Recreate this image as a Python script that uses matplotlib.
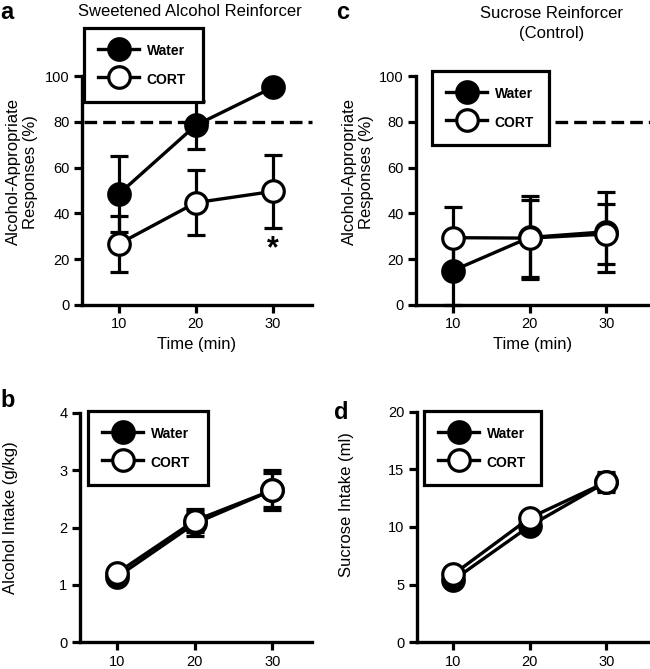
import matplotlib
matplotlib.use("Agg")
import matplotlib.pyplot as plt
from matplotlib.lines import Line2D

plt.rcParams['font.family'] = ['Liberation Sans', 'DejaVu Sans']

# ---- data ----
times = [10, 20, 30]
groups = ["Water", "CORT"]

# panel a: Sweetened alcohol reinforcer, alcohol-appropriate responses (%)
a_water = [48.5, 78.5, 95.0]
a_water_err = [16.5, 10.5, 0.0]
a_cort = [26.7, 44.7, 49.6]
a_cort_err = [12.3, 14.2, 16.0]

# panel c: Sucrose reinforcer, alcohol-appropriate responses (%)
c_water = [15.0, 29.5, 32.0]
c_water_err = [15.0, 18.0, 17.5]
c_cort = [29.4, 29.2, 31.0]
c_cort_err = [13.6, 16.8, 13.2]

# panel b: alcohol intake (g/kg)
b_water = [1.14, 2.07, 2.65]
b_water_err = [0.05, 0.22, 0.35]
b_cort = [1.21, 2.12, 2.65]
b_cort_err = [0.05, 0.2, 0.3]

# panel d: sucrose intake (ml)
d_water = [5.4, 10.1, 13.9]
d_water_err = [0.3, 0.4, 0.9]
d_cort = [5.9, 10.8, 13.9]
d_cort_err = [0.3, 0.4, 0.7]

criterion = 80

W, H = 650, 669
fig = plt.figure(figsize=(W / 100, H / 100), dpi=100)

LW = 2.4
MS = 15.5
MEW = 2.3


def add_ax(l, r, t, b):
    return fig.add_axes([l / W, 1 - b / H, (r - l) / W, (b - t) / H])


def style(ax, xlim, ylim, yticks):
    ax.set_xlim(*xlim)
    ax.set_ylim(*ylim)
    ax.set_xticks(times)
    ax.set_yticks(yticks)
    for s in ['top', 'right']:
        ax.spines[s].set_visible(False)
    for s in ['left', 'bottom']:
        ax.spines[s].set_linewidth(2.4)
        ax.spines[s].set_capstyle('projecting')
    ax.tick_params(width=2.3, length=5.5, labelsize=10.5, pad=3.5, direction='out')
    ax.patch.set_alpha(0)


def draw(ax, w, we, c, ce):
    ax.errorbar(times, w, yerr=we, color='black', lw=LW, marker='o', ms=MS,
                mfc='black', mec='black', mew=MEW, capsize=6.5, capthick=2.3,
                elinewidth=2.3, zorder=3, clip_on=False)
    ax.errorbar(times, c, yerr=ce, color='black', lw=LW, marker='o', ms=MS,
                mfc='white', mec='black', mew=MEW, capsize=6.5, capthick=2.3,
                elinewidth=2.3, zorder=4, clip_on=False)


def legend(ax, l, r, t, b):
    handles = [
        Line2D([], [], color='black', lw=LW, marker='o', ms=MS, mfc='black', mec='black', mew=MEW),
        Line2D([], [], color='black', lw=LW, marker='o', ms=MS, mfc='white', mec='black', mew=MEW),
    ]
    leg = ax.legend(handles, groups, loc='upper left',
                    bbox_to_anchor=(l / W, 1 - b / H, (r - l) / W, (b - t) / H),
                    bbox_transform=fig.transFigure, mode='expand', borderaxespad=0,
                    prop={'weight': 'bold', 'size': 10}, handlelength=2.95,
                    handletextpad=0.55, borderpad=1.02, handleheight=1.5,
                    labelspacing=0.85, fancybox=False, framealpha=1,
                    edgecolor='black', numpoints=1)
    leg.get_frame().set_linewidth(2.3)
    leg.set_zorder(10)
    return leg


# ---- panel a ----
ax_a = add_ax(82, 312, 76, 305)
style(ax_a, (5.2, 35.1), (0, 100), [0, 20, 40, 60, 80, 100])
ax_a.plot([5.4, 35.1], [criterion, criterion], color='black', lw=2.4,
          dashes=(3.8, 1.8), zorder=2, clip_on=False)
draw(ax_a, a_water, a_water_err, a_cort, a_cort_err)
ax_a.text(30, 24.5, '*', ha='center', va='center', fontsize=22, fontweight='bold')
ax_a.set_xlabel('Time (min)', fontsize=12, labelpad=4)
legend(ax_a, 84, 203, 28, 102)

# ---- panel c ----
ax_c = add_ax(416, 650, 76, 305)
style(ax_c, (5.2, 35.7), (0, 100), [0, 20, 40, 60, 80, 100])
ax_c.plot([23.3, 35.7], [criterion, criterion], color='black', lw=2.4,
          dashes=(3.8, 1.8), zorder=2, clip_on=False)
draw(ax_c, c_water, c_water_err, c_cort, c_cort_err)
ax_c.set_xlabel('Time (min)', fontsize=12, labelpad=4)
legend(ax_c, 432, 549, 71, 146)

# ---- panel b ----
ax_b = add_ax(80, 312, 412.7, 642.3)
style(ax_b, (5.2, 35.1), (0, 4), [0, 1, 2, 3, 4])
draw(ax_b, b_water, b_water_err, b_cort, b_cort_err)
legend(ax_b, 88, 208, 411, 487)

# ---- panel d ----
ax_d = add_ax(416.7, 650, 411.7, 642.3)
style(ax_d, (5.2, 35.7), (0, 20), [0, 5, 10, 15, 20])
draw(ax_d, d_water, d_water_err, d_cort, d_cort_err)
legend(ax_d, 424, 541, 411, 486)


def ftext(x, y, s, **kw):
    fig.text(x / W, 1 - y / H, s, **kw)


# titles and panel letters
ftext(190, 12, 'Sweetened Alcohol Reinforcer', ha='center', va='center', fontsize=12)
ftext(552, 23.5, 'Sucrose Reinforcer\n(Control)', ha='center', va='center', fontsize=12,
      linespacing=1.35)
ftext(0, 1, 'a', ha='left', va='top', fontsize=17, fontweight='bold')
ftext(336, 1, 'c', ha='left', va='top', fontsize=17, fontweight='bold')
ftext(0, 389, 'b', ha='left', va='top', fontsize=17, fontweight='bold')
ftext(334, 401, 'd', ha='left', va='top', fontsize=17, fontweight='bold')

# y labels
ftext(22, 172, 'Alcohol-Appropriate\nResponses (%)', ha='center', va='center', fontsize=12,
      rotation=90, linespacing=1.2)
ftext(358, 172, 'Alcohol-Appropriate\nResponses (%)', ha='center', va='center', fontsize=12,
      rotation=90, linespacing=1.2)
ftext(11, 518, 'Alcohol Intake (g/kg)', ha='center', va='center', fontsize=12, rotation=90)
ftext(347, 505, 'Sucrose Intake (ml)', ha='center', va='center', fontsize=12, rotation=90)

fig.savefig('out.png', dpi=100)
